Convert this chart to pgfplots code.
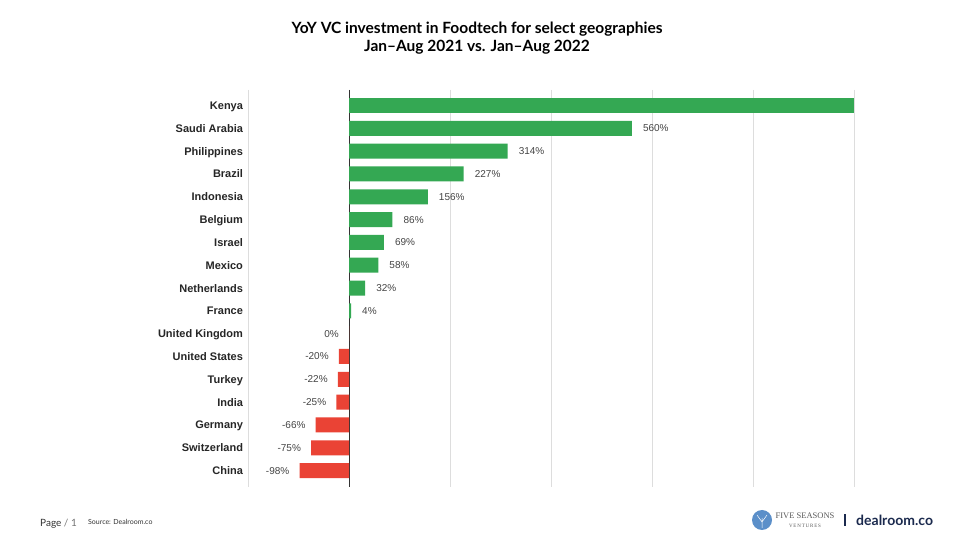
\documentclass[border=0pt]{standalone}
\usepackage{fontspec}
\setmainfont{Liberation Sans}
\newfontfamily\titlefont{Lato}
\newfontfamily\seriffont{Liberation Serif}
\usepackage{pgfplots}
\pgfplotsset{compat=1.18}
\definecolor{bargreen}{HTML}{34A853}
\definecolor{barred}{HTML}{EA4335}
\definecolor{gridgray}{HTML}{DDDDDD}
\definecolor{zerogray}{HTML}{333333}
\definecolor{labelgray}{HTML}{444444}
\definecolor{navy}{HTML}{1B2A4E}
\definecolor{logoblue}{HTML}{5B8FC9}
\begin{document}
\begin{tikzpicture}
\path[fill=white] (0pt,0pt) rectangle (960pt,540pt);
\begin{axis}[
  at={(248pt,53pt)}, anchor=south west,
  scale only axis, width=606pt, height=397pt,
  xmin=-200, xmax=1000, ymin=-0.68, ymax=16.72,
  y dir=reverse,
  xtick={-200,0,200,400,600,800,1000}, xticklabels={},
  xmajorgrids, grid style={gridgray, line width=1pt},
  extra x ticks={0}, extra x tick labels={},
  extra x tick style={grid style={zerogray, line width=0.9pt}},
  ytick={0,...,16},
  yticklabels={Kenya,Saudi Arabia,Philippines,Brazil,Indonesia,Belgium,Israel,Mexico,Netherlands,France,United Kingdom,United States,Turkey,India,Germany,Switzerland,China},
  major tick length=0pt,
  axis line style={draw=none},
  yticklabel style={font=\bfseries\fontsize{11}{13}\selectfont, text=black!85, xshift=-1.5pt,
    anchor=east, text height=8pt, text depth=0pt},
]
\addplot[xbar, bar shift=0pt, bar width=15pt, fill=bargreen, draw=none]
  coordinates {(1000,0)};
\addplot[xbar, bar shift=0pt, bar width=15pt, fill=bargreen, draw=none,
  point meta=explicit symbolic, nodes near coords,
  nodes near coords style={anchor=west, inner sep=0pt, xshift=11pt,
    font=\fontsize{10}{12}\selectfont, text=labelgray}]
  coordinates {(560,1)[560\%] (314,2)[314\%] (227,3)[227\%] (156,4)[156\%]
    (86,5)[86\%] (69,6)[69\%] (58,7)[58\%] (32,8)[32\%] (4,9)[4\%]};
\addplot[xbar, bar shift=0pt, bar width=15pt, fill=barred, draw=none,
  point meta=explicit symbolic, nodes near coords,
  nodes near coords style={anchor=east, inner sep=0pt, xshift=-10pt,
    font=\fontsize{10}{12}\selectfont, text=labelgray}]
  coordinates {(0,10)[0\%] (-20,11)[-20\%] (-22,12)[-22\%] (-25,13)[-25\%]
    (-66,14)[-66\%] (-75,15)[-75\%] (-98,16)[-98\%]};
\end{axis}
\node[font=\titlefont\bfseries\fontsize{15.5}{18}\selectfont] at (477pt,511pt)
  {YoY VC investment in Foodtech for select geographies};
\node[font=\titlefont\bfseries\fontsize{15.5}{18}\selectfont] at (477pt,493pt)
  {Jan–Aug 2021 vs. Jan–Aug 2022};
\node[anchor=west, inner sep=0pt, font=\titlefont\fontsize{10}{12}\selectfont, text=black!80] at (40pt,16pt)
  {Page {\color{black!55}/ 1}};
\node[anchor=west, inner sep=0pt, font=\titlefont\fontsize{7}{8}\selectfont, text=black!80] at (88pt,18pt)
  {Source: Dealroom.co};
\fill[logoblue] (762pt,20pt) circle (10pt);
\draw[white, line width=0.5pt] (762pt,12pt) -- (762pt,22pt) (762pt,18pt) -- (757pt,25pt) (762pt,18pt) -- (767pt,25pt);
\node[font=\seriffont\fontsize{8.5}{9}\selectfont, text=black!65, inner sep=0pt] at (805pt,24pt) {FIVE SEASONS};
\node[font=\seriffont\fontsize{5}{6}\selectfont, text=black!65, inner sep=0pt] at (805pt,14pt) {V\,E\,N\,T\,U\,R\,E\,S};
\draw[navy, line width=1.2pt] (845pt,14pt) -- (845pt,26pt);
\node[anchor=west, inner sep=0pt, font=\titlefont\bfseries\fontsize{14}{16}\selectfont, text=navy] at (856pt,20pt) {dealroom.co};
\end{tikzpicture}
\end{document}
